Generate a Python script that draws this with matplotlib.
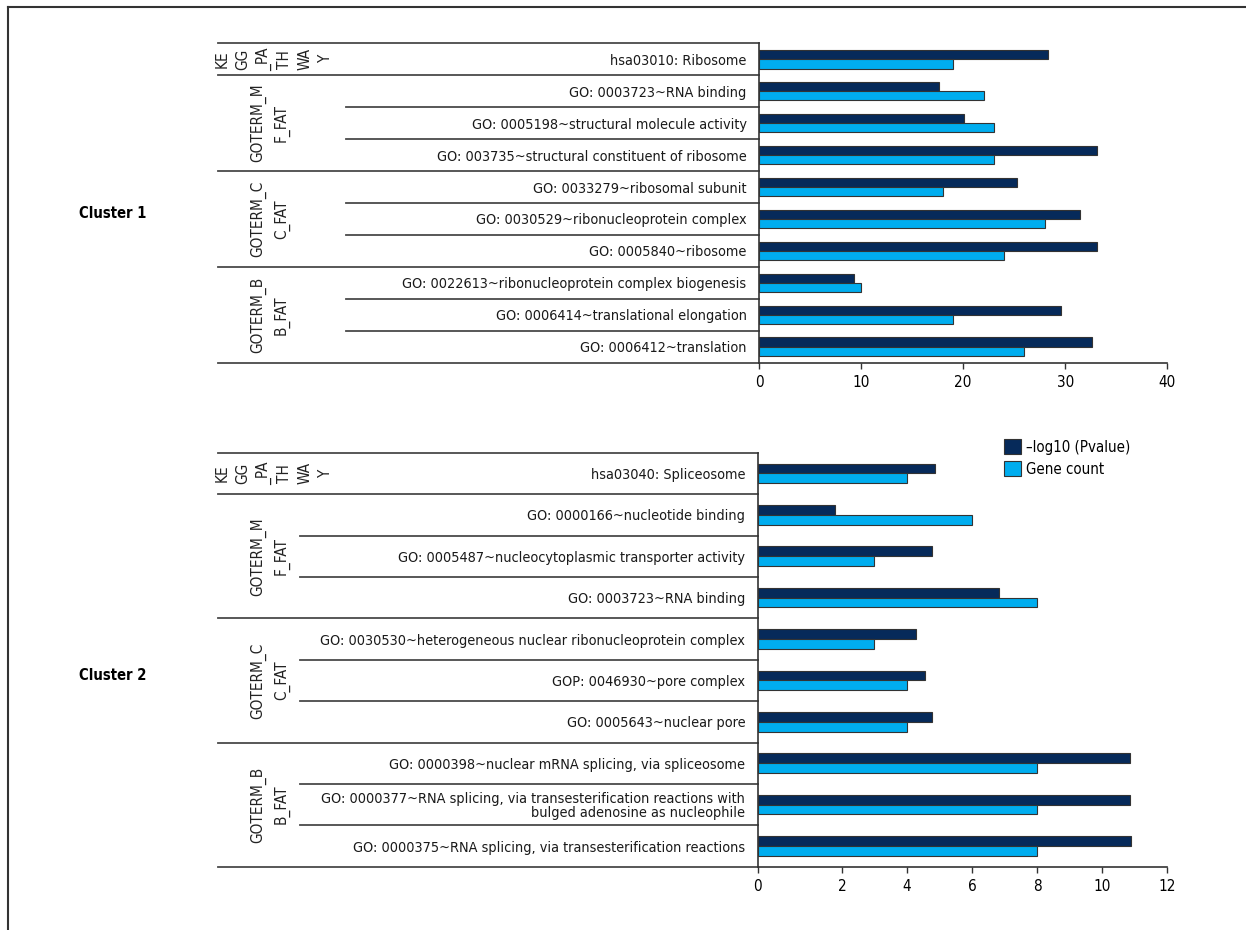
import numpy as np
import matplotlib.pyplot as plt
from matplotlib.lines import Line2D
from matplotlib import transforms

# condensed face, close to the narrow font of the source figure
plt.rcParams['font.family'] = ['DejaVu Sans']
plt.rcParams['font.stretch'] = 'condensed'

W, H = 1246, 930

#---------------------------- data ----------------------------#
c1_terms = ['hsa03010: Ribosome',
            'GO: 0003723~RNA binding',
            'GO: 0005198~structural molecule activity',
            'GO: 003735~structural constituent of ribosome',
            'GO: 0033279~ribosomal subunit',
            'GO: 0030529~ribonucleoprotein complex',
            'GO: 0005840~ribosome',
            'GO: 0022613~ribonucleoprotein complex biogenesis',
            'GO: 0006414~translational elongation',
            'GO: 0006412~translation']
c1_pval = [28.3, 17.6, 20.1, 33.1, 25.3, 31.4, 33.1, 9.3, 29.6, 32.6]
c1_count = [19, 22, 23, 23, 18, 28, 24, 10, 19, 26]

c2_terms = ['hsa03040: Spliceosome',
            'GO: 0000166~nucleotide binding',
            'GO: 0005487~nucleocytoplasmic transporter activity',
            'GO: 0003723~RNA binding',
            'GO: 0030530~heterogeneous nuclear ribonucleoprotein complex',
            'GOP: 0046930~pore complex',
            'GO: 0005643~nuclear pore',
            'GO: 0000398~nuclear mRNA splicing, via spliceosome',
            'GO: 0000377~RNA splicing, via transesterification reactions with\nbulged adenosine as nucleophile',
            'GO: 0000375~RNA splicing, via transesterification reactions']
c2_pval = [4.85, 1.78, 4.76, 6.84, 4.27, 4.54, 4.78, 10.86, 10.86, 10.87]
c2_count = [4, 6, 3, 8, 3, 4, 4, 8, 8, 8]

group_labels = ['KE\nGG\n_PA\nTH\nWA\nY', 'GOTERM_M\nF_FAT', 'GOTERM_C\nC_FAT', 'GOTERM_B\nB_FAT']
group_sizes = [1, 3, 3, 3]

c1_ticks = [0, 10, 20, 30, 40]
c2_ticks = [0, 2, 4, 6, 8, 10, 12]

dark = '#062a5a'
light = '#00adef'
edge = '#333333'
linec = '#4a4a4a'

fs = 10.4   # term labels
gfs = 11    # group labels
tfs = 11    # tick labels

fig = plt.figure(figsize=(W / 100, H / 100), dpi=100)


def px(x0, y0, x1, y1):
    # pixel box -> figure fraction rect
    return [x0 / W, 1 - y1 / H, (x1 - x0) / W, (y1 - y0) / H]


def draw_cluster(ax, terms, pval, count, sub_left, bar_h, xmin):
    n = len(terms)
    y = np.arange(n)
    # bars start at the axis line (as in the original figure)
    b1 = ax.barh(y - bar_h / 2, np.array(pval) - xmin, left=xmin, height=bar_h,
                 color=dark, edgecolor=edge, linewidth=0.8, label='\u2013log10 (Pvalue)')
    b2 = ax.barh(y + bar_h / 2, np.array(count) - xmin, left=xmin, height=bar_h,
                 color=light, edgecolor=edge, linewidth=0.8, label='Gene count')
    ax.set_ylim(n - 0.5, -0.5)
    ax.set_yticks(y)
    ax.set_yticklabels(terms, fontsize=fs, color='#1a1a1a')
    for t in ax.get_yticklabels():
        t.set_linespacing(0.95)
    ax.tick_params(axis='y', length=0, pad=9)
    ax.tick_params(axis='x', length=4, width=1, color=edge, pad=5, labelsize=tfs)
    for s in ['top', 'right']:
        ax.spines[s].set_visible(False)
    for s in ['left', 'bottom']:
        ax.spines[s].set_color(edge)
        ax.spines[s].set_linewidth(1.2)

    # table lines and group labels
    trans = transforms.blended_transform_factory(fig.transFigure, ax.transData)
    x_right = ax.get_position().x0
    start = 0
    ax.add_line(Line2D([218 / W, x_right], [-0.5, -0.5], transform=trans,
                       color=linec, lw=1.3, clip_on=False))
    for lab, size in zip(group_labels, group_sizes):
        end = start + size
        ax.add_line(Line2D([218 / W, x_right], [end - 0.5, end - 0.5], transform=trans,
                           color=linec, lw=1.3, clip_on=False))
        for k in range(start + 1, end):
            ax.add_line(Line2D([sub_left / W, x_right], [k - 0.5, k - 0.5], transform=trans,
                               color=linec, lw=1.3, clip_on=False))
        ls = 1.45 if size == 1 else 1.6
        xc = 274 if size == 1 else 270
        ax.text(xc / W, (start + end - 1) / 2, lab, transform=trans, rotation=90,
                ha='center', va='center', multialignment='center',
                fontsize=gfs, linespacing=ls, color='#222222')
        start = end
    return b1, b2


# Cluster 1
ax1 = fig.add_axes(px(759, 43.3, 1167.3, 362.7))
draw_cluster(ax1, c1_terms, c1_pval, c1_count, 346, 0.29, 0)
ax1.set_xlim(0, 40)
ax1.set_xticks(c1_ticks)

# Cluster 2 (axis origin drawn a little left of the 0 value, like the source)
x0 = -0.59
ax2 = fig.add_axes(px(757.7, 452.7, 1167.3, 866.7))
draw_cluster(ax2, c2_terms, c2_pval, c2_count, 300, 0.235, x0)
ax2.set_xlim(x0, 12)
ax2.set_xticks([x0] + c2_ticks[1:])
ax2.set_xticklabels([str(t) for t in c2_ticks])

ax2.legend(loc='upper left', bbox_to_anchor=(1004 / W, 1 - 439 / H),
           bbox_transform=fig.transFigure, frameon=False, fontsize=10.8,
           handlelength=1.15, handleheight=1.2, handletextpad=0.3,
           labelspacing=0.4, borderpad=0, borderaxespad=0)

fig.text(79 / W, 1 - 213 / H, 'Cluster 1', fontsize=10.6, fontweight='bold',
         ha='left', va='center')
fig.text(79 / W, 1 - 675 / H, 'Cluster 2', fontsize=10.6, fontweight='bold',
         ha='left', va='center')

# outer frame (top and left edges)
fig.add_artist(Line2D([8 / W, 1], [1 - 7 / H, 1 - 7 / H], transform=fig.transFigure,
                      color='#333333', lw=1.5))
fig.add_artist(Line2D([8 / W, 8 / W], [0, 1 - 7 / H], transform=fig.transFigure,
                      color='#333333', lw=1.5))

fig.savefig('out.png', dpi=100)
